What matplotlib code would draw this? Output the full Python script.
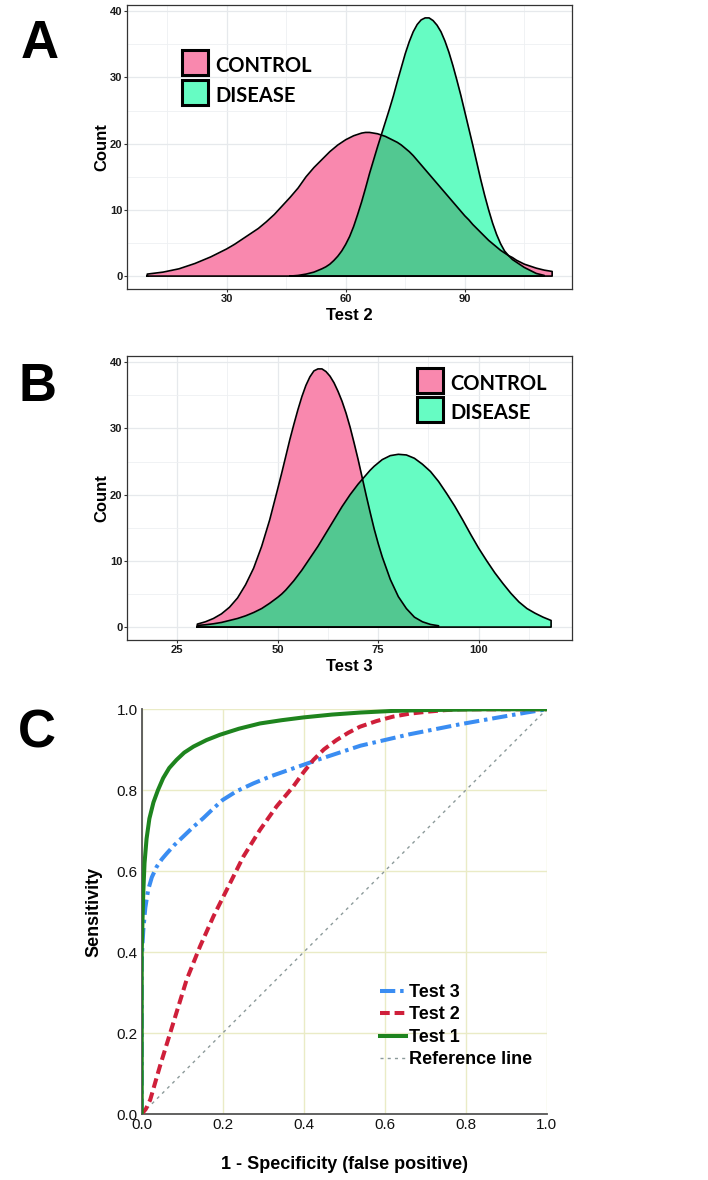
import numpy as np
import matplotlib
matplotlib.use("Agg")
import matplotlib.pyplot as plt
from matplotlib.patches import Rectangle
from matplotlib.lines import Line2D

plt.rcParams['font.family'] = ['Liberation Sans', 'DejaVu Sans']
plt.rcParams['lines.scale_dashes'] = False

nan = np.nan

# ---------------- Panel A data (Test 2) ----------------
xA = [10, 12, 14, 16, 18, 20, 22, 24, 26, 28, 30, 32, 34, 36, 38, 40, 42, 44, 46, 48, 50, 52, 54,
      55, 56, 57, 58, 59, 60, 61, 62, 63, 64, 65, 66, 67, 68, 69, 70, 71, 72, 73, 74, 75, 76, 77, 78, 79, 80,
      81, 82, 83, 84, 85, 86, 87, 88, 89, 90, 91, 92, 93, 94, 95, 96, 97, 98, 99, 100, 101, 102, 103, 104, 105,
      106, 108, 110, 112]
controlA = [0.3, 0.45, 0.6, 0.85, 1.1, 1.5, 1.9, 2.4, 2.9, 3.5, 4.1, 4.8, 5.6, 6.4, 7.2, 8.2, 9.3, 10.6, 11.9, 13.3, 15.0, 16.4, 17.6,
            18.2, 18.8, 19.3, 19.8, 20.2, 20.6, 20.9, 21.2, 21.4, 21.6, 21.7, 21.7, 21.6, 21.5, 21.3, 21.1, 20.8, 20.5, 20.2, 19.8, 19.3, 18.8, 18.2, 17.5, 16.8, 16.1,
            15.4, 14.7, 14.0, 13.3, 12.6, 11.9, 11.2, 10.5, 9.8, 9.1, 8.5, 7.8, 7.2, 6.6, 6.0, 5.4, 4.9, 4.4, 3.9, 3.5, 3.1, 2.8, 2.4, 2.1, 1.8,
            1.6, 1.2, 0.9, 0.7]
diseaseA = [nan, nan, nan, nan, nan, nan, nan, nan, nan, nan, nan, nan, nan, nan, nan, nan, nan, nan, 0.0, 0.1, 0.3, 0.6, 1.1,
            1.4, 1.8, 2.35, 3.0, 3.8, 4.8, 6.0, 7.5, 9.3, 11.2, 13.3, 15.5, 17.5, 19.5, 21.4, 23.3, 25.2, 27.2, 29.4, 31.5, 33.6, 35.4, 36.9, 38.0, 38.7, 39.0,
            39.0, 38.6, 37.9, 36.9, 35.5, 33.8, 31.8, 29.6, 27.3, 24.8, 22.3, 19.8, 17.2, 14.6, 12.2, 10.0, 8.0, 6.3, 4.9, 3.8, 3.1, 2.5, 2.1, 1.7, 1.3,
            1.0, 0.4, 0.1, nan]
xticksA = [30, 60, 90]

# ---------------- Panel B data (Test 3) ----------------
xB = [30, 32, 34, 36, 38, 40, 42, 44, 46, 48, 50,
      51, 52, 53, 54, 55, 56, 57, 58, 59, 60, 61, 62, 63, 64, 65, 66, 67, 68, 69, 70, 71, 72, 73, 74, 75,
      76, 78, 80, 82, 84, 86, 88, 90, 92, 94, 96, 98, 100, 102, 104, 106, 108, 110, 112, 114, 116, 118]
controlB = [0.45, 0.8, 1.3, 2.0, 3.0, 4.4, 6.4, 8.9, 12.2, 16.2, 20.9,
            23.3, 25.8, 28.3, 30.6, 32.8, 34.8, 36.5, 37.8, 38.7, 39.0, 39.0, 38.6, 37.9, 36.9, 35.6, 34.1, 32.3, 30.2, 27.8, 25.3, 22.6, 19.9, 17.3, 14.8, 12.6,
            10.6, 7.2, 4.6, 2.8, 1.5, 0.8, 0.4, 0.2, nan, nan, nan, nan, nan, nan, nan, nan, nan, nan, nan, nan, nan, nan]
diseaseB = [0.25, 0.35, 0.5, 0.7, 1.0, 1.3, 1.7, 2.2, 2.8, 3.6, 4.5,
            5.0, 5.6, 6.3, 7.0, 7.8, 8.6, 9.5, 10.4, 11.3, 12.2, 13.2, 14.2, 15.2, 16.2, 17.2, 18.2, 19.1, 20.0, 20.8, 21.6, 22.3, 23.0, 23.7, 24.3, 24.8,
            25.3, 25.9, 26.1, 26.0, 25.5, 24.6, 23.5, 22.0, 20.2, 18.3, 16.2, 14.0, 11.9, 10.0, 8.2, 6.6, 5.1, 3.8, 2.8, 2.1, 1.5, 1.0]
xticksB = [25, 50, 75, 100]
yticksAB = [0, 10, 20, 30, 40]
groups = ["CONTROL", "DISEASE"]

# ---------------- Panel C data (ROC) ----------------
fpr1 = [0, 0, 0.001, 0.002, 0.004, 0.007, 0.012, 0.019, 0.029, 0.040, 0.053, 0.068, 0.086, 0.105, 0.128,
        0.16, 0.193, 0.24, 0.292, 0.345, 0.4, 0.47, 0.54, 0.62, 0.7, 0.85, 1.0]
tpr1 = [0, 0.4, 0.44, 0.48, 0.55, 0.62, 0.68, 0.73, 0.77, 0.80, 0.83, 0.855, 0.875, 0.893, 0.908,
        0.924, 0.937, 0.952, 0.965, 0.973, 0.98, 0.987, 0.992, 0.996, 0.998, 1.0, 1.0]
fpr2 = [0, 0.01, 0.021, 0.045, 0.078, 0.111, 0.144, 0.177, 0.21, 0.251, 0.292, 0.333, 0.374, 0.40, 0.424,
        0.45, 0.481, 0.51, 0.539, 0.58, 0.621, 0.66, 0.704, 0.75, 0.786, 1.0]
tpr2 = [0, 0.012, 0.035, 0.118, 0.225, 0.332, 0.414, 0.488, 0.554, 0.636, 0.702, 0.76, 0.809, 0.845, 0.875,
        0.901, 0.924, 0.942, 0.957, 0.971, 0.982, 0.989, 0.994, 0.998, 1.0, 1.0]
fpr3 = [0, 0, 0.002, 0.004, 0.009, 0.016, 0.025, 0.037, 0.05, 0.062, 0.08, 0.103, 0.127, 0.152, 0.176,
        0.2, 0.235, 0.276, 0.32, 0.374, 0.44, 0.54, 0.66, 0.786, 0.87, 0.95, 1.0]
tpr3 = [0, 0.373, 0.42, 0.455, 0.51, 0.554, 0.585, 0.611, 0.63, 0.644, 0.664, 0.686, 0.709, 0.731, 0.754,
        0.776, 0.798, 0.817, 0.835, 0.854, 0.877, 0.91, 0.938, 0.963, 0.978, 0.992, 1.0]
ref = [0, 1]
roc_labels = ["Test 3", "Test 2", "Test 1", "Reference line"]
cticks = [0.0, 0.2, 0.4, 0.6, 0.8, 1.0]

# ---------------- styling ----------------
W, H = 708, 1180
PINK = "#F988AE"
AQUA = "#66FCC3"
OVER = "#52C891"
fig = plt.figure(figsize=(W / 100, H / 100), dpi=100)


def rect(l, t, r, b):
    return [l / W, 1 - b / H, (r - l) / W, (b - t) / H]


def density_panel(ax, x, c, d, xticks, xlim, xlabel):
    x = np.asarray(x, float)
    c = np.asarray(c, float)
    d = np.asarray(d, float)
    mc = ~np.isnan(c)
    md = ~np.isnan(d)
    mo = mc & md
    ax.fill_between(x[mc], 0, c[mc], color=PINK, lw=0, zorder=2)
    ax.fill_between(x[md], 0, d[md], color=AQUA, lw=0, zorder=2)
    ax.fill_between(x[mo], 0, np.minimum(c[mo], d[mo]), color=OVER, lw=0, zorder=3)
    for m, y in ((mc, c), (md, d)):
        xs = x[m]
        ys = y[m]
        px = np.concatenate([[xs[0]], xs, [xs[-1], xs[0]]])
        py = np.concatenate([[0], ys, [0, 0]])
        ax.plot(px, py, color="black", lw=1.2, zorder=4, solid_joinstyle='round')
    ax.set_xlim(*xlim)
    ax.set_ylim(-1.95, 40.95)
    ax.set_xticks(xticks)
    ax.set_yticks(yticksAB)
    step = xticks[1] - xticks[0]
    mx = [xticks[0] - step / 2] + [t + step / 2 for t in xticks]
    ax.set_xticks(mx, minor=True)
    ax.set_yticks([5, 15, 25, 35], minor=True)
    ax.grid(which='major', color='#E6E9EC', lw=0.9, zorder=0)
    ax.grid(which='minor', color='#EEF0F2', lw=0.6, zorder=0)
    ax.set_axisbelow(True)
    ax.tick_params(which='major', length=2.2, width=0.8, color='#333333',
                   labelsize=8, labelcolor='#1a1a1a', pad=1.2)
    for t in ax.get_xticklabels() + ax.get_yticklabels():
        t.set_fontweight('bold')
    ax.tick_params(which='minor', length=0)
    for s in ax.spines.values():
        s.set_color('#333333')
        s.set_linewidth(0.9)
    ax.set_xlabel(xlabel, fontsize=12, fontweight='bold', labelpad=3)
    ax.set_ylabel("Count", fontsize=12, fontweight='bold', labelpad=0)


axA = fig.add_axes(rect(127, 5, 572, 289))
density_panel(axA, xA, controlA, diseaseA, xticksA, (4.9, 117.0), "Test 2")
axB = fig.add_axes(rect(127, 356, 572, 640))
density_panel(axB, xB, controlB, diseaseB, xticksB, (24.8, 123.2), "Test 3")


def box_legend(x0, y0, gap):
    for i, (lab, col) in enumerate(zip(groups, [PINK, AQUA])):
        top = y0 + i * gap
        fig.patches.append(Rectangle((x0 / W, 1 - (top + 25) / H), 26 / W, 25 / H,
                                     transform=fig.transFigure, facecolor=col,
                                     edgecolor='black', lw=2.2, zorder=10))
        fig.text((x0 + 33) / W, 1 - (top + 16) / H, lab, fontsize=14.5,
                 fontweight='bold', family=['Lato', 'DejaVu Sans'],
                 ha='left', va='center', zorder=11)


box_legend(182, 50, 30)
box_legend(417, 368, 29)

# ---------------- Panel C ----------------
axC = fig.add_axes(rect(141.7, 709.3, 546.7, 1114))
axC.plot(ref, ref, color='#8C9A9A', lw=1.0, dashes=(2.2, 3.0), zorder=2)
l3, = axC.plot(fpr3, tpr3, color='#3A8DF2', lw=2.9, dashes=(11, 3.5, 2.5, 3.5), zorder=3)
l2, = axC.plot(fpr2, tpr2, color='#CF1F3A', lw=2.9, dashes=(7, 3.5), zorder=4)
l1, = axC.plot(fpr1, tpr1, color='#1E841E', lw=2.9, zorder=5, solid_joinstyle='round')
axC.set_xlim(0, 1)
axC.set_ylim(0, 1)
axC.set_xticks(cticks)
axC.set_yticks(cticks)
axC.set_xticklabels([f"{v:.1f}" for v in cticks])
axC.set_yticklabels([f"{v:.1f}" for v in cticks])
axC.grid(color='#EAEBC6', lw=1.0, zorder=0)
axC.set_axisbelow(True)
axC.tick_params(length=0, labelsize=11, labelcolor='#111111')
axC.tick_params(axis='x', pad=3)
axC.tick_params(axis='y', pad=3)
for k in ('top', 'right'):
    axC.spines[k].set_visible(False)
for k in ('left', 'bottom'):
    axC.spines[k].set_color('#555555')
    axC.spines[k].set_linewidth(1.3)
axC.set_xlabel("1 - Specificity (false positive)", fontsize=13, fontweight='bold', labelpad=17)
axC.set_ylabel("Sensitivity", fontsize=13, fontweight='bold', labelpad=10)

hr = Line2D([0], [0], color='#8C9A9A', lw=1.0, dashes=(2.2, 3.0))
leg = axC.legend([l3, l2, l1, hr], roc_labels, loc='upper left',
                 bbox_to_anchor=(380 / W, 1 - 984 / H), bbox_transform=fig.transFigure,
                 frameon=False, borderpad=0, borderaxespad=0, handlelength=1.45,
                 handletextpad=0.15, labelspacing=0.3,
                 prop={'weight': 'bold', 'size': 13})

# panel letters
for lab, (x, y) in zip(["A", "B", "C"], [(40, 44), (38, 387), (37, 733)]):
    fig.text(x / W, 1 - y / H, lab, fontsize=38, fontweight='bold', ha='center', va='center')

fig.savefig("out.png", dpi=100)
